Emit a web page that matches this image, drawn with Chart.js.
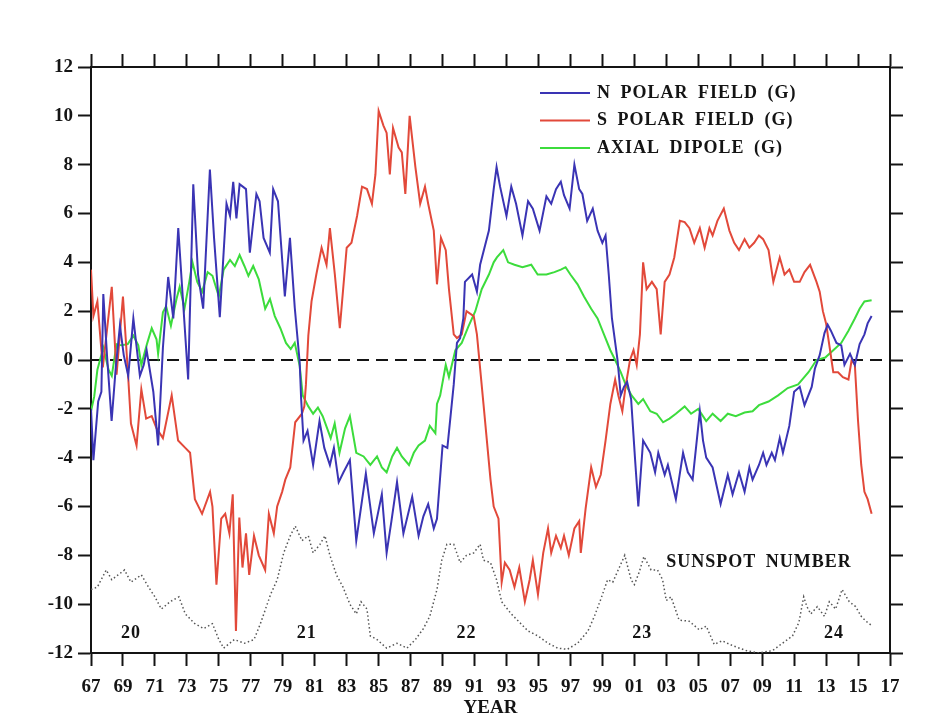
<!DOCTYPE html>
<html>
<head>
<meta charset="utf-8">
<title>Polar fields and axial dipole</title>
<script src="https://cdn.jsdelivr.net/npm/chart.js@4.4.1/dist/chart.umd.min.js"></script>
<style>
    html, body { margin: 0; padding: 0; background: #fff; }
</style>
</head>
<body>
<canvas id="polar-chart" width="936" height="728"></canvas>
<script>
(function() {
    'use strict';

    // values: [year, gauss]
    const N_POLAR = [
        [1967.0,-2.0],[1967.15,-4.1],[1967.45,-1.7],[1967.65,-1.3],[1967.77,2.7],[1968.0,0.2],[1968.29,-2.5],
        [1968.55,-0.3],[1968.81,1.4],[1969.05,0.2],[1969.33,-0.65],[1969.65,1.7],[1970.06,-0.65],[1970.3,-0.2],
        [1970.48,0.4],[1970.9,-1.3],[1971.2,-3.5],[1971.5,0.5],[1971.83,3.4],[1972.15,1.7],[1972.46,5.4],
        [1972.75,2.5],[1973.08,-0.8],[1973.4,7.2],[1973.7,3.5],[1974.02,2.1],[1974.44,7.8],[1974.7,5.0],
        [1975.06,1.75],[1975.48,6.4],[1975.7,5.9],[1975.9,7.3],[1976.1,5.8],[1976.3,7.2],[1976.7,7.0],
        [1976.94,4.4],[1977.35,6.8],[1977.55,6.5],[1977.8,5.0],[1978.19,4.4],[1978.4,7.0],[1978.7,6.5],
        [1979.13,2.6],[1979.45,5.0],[1979.75,2.15],[1980.06,-0.1],[1980.15,-1.6],[1980.3,-3.3],[1980.55,-2.9],
        [1980.9,-4.3],[1981.3,-2.5],[1981.6,-3.6],[1981.95,-4.3],[1982.2,-3.6],[1982.5,-5.0],[1982.8,-4.6],
        [1983.2,-4.1],[1983.6,-7.4],[1984.2,-4.65],[1984.7,-7.1],[1985.2,-5.5],[1985.5,-7.9],[1985.8,-6.6],
        [1986.15,-5.0],[1986.55,-7.1],[1987.1,-5.6],[1987.5,-7.2],[1987.8,-6.4],[1988.1,-5.9],[1988.45,-6.9],
        [1988.65,-6.5],[1989.0,-3.5],[1989.3,-3.6],[1989.7,-1.0],[1989.9,0.7],[1990.1,0.9],[1990.3,1.7],
        [1990.4,3.2],[1990.85,3.5],[1991.15,2.8],[1991.35,3.9],[1991.9,5.3],[1992.2,7.0],[1992.38,7.9],
        [1992.6,7.1],[1993.0,5.9],[1993.3,7.1],[1993.6,6.4],[1994.0,5.1],[1994.35,6.5],[1994.65,6.2],
        [1995.07,5.3],[1995.5,6.7],[1995.8,6.4],[1996.1,7.0],[1996.4,7.3],[1996.6,6.75],[1996.95,6.2],
        [1997.25,8.0],[1997.55,7.0],[1997.75,6.8],[1998.05,5.7],[1998.4,6.2],[1998.7,5.3],[1999.0,4.8],
        [1999.2,5.1],[1999.4,3.5],[1999.6,1.7],[1999.95,0.0],[2000.15,-1.45],[2000.35,-1.1],[2000.55,-0.9],
        [2000.8,-1.6],[2001.05,-4.1],[2001.25,-6.0],[2001.55,-3.3],[2002.0,-3.8],[2002.3,-4.6],[2002.5,-3.8],
        [2002.9,-4.7],[2003.1,-4.3],[2003.6,-5.7],[2004.05,-3.8],[2004.35,-4.6],[2004.65,-4.9],[2005.1,-2.1],
        [2005.3,-3.3],[2005.5,-4.0],[2005.9,-4.4],[2006.4,-5.9],[2006.85,-4.7],[2007.15,-5.5],[2007.55,-4.6],
        [2007.9,-5.4],[2008.2,-4.4],[2008.4,-4.9],[2008.8,-4.3],[2009.06,-3.8],[2009.27,-4.3],[2009.6,-3.8],
        [2009.8,-4.1],[2010.1,-3.2],[2010.3,-3.8],[2010.7,-2.7],[2011.0,-1.3],[2011.35,-1.1],[2011.65,-1.85],
        [2012.1,-1.1],[2012.3,-0.35],[2012.6,0.2],[2012.9,1.1],[2013.1,1.45],[2013.3,1.2],[2013.65,0.7],
        [2013.95,0.6],[2014.15,-0.2],[2014.5,0.25],[2014.8,-0.2],[2015.1,0.65],[2015.4,1.05],[2015.6,1.5],
        [2015.85,1.8]
    ];

    const S_POLAR = [
        [1967.0,3.7],[1967.15,1.8],[1967.4,2.4],[1967.74,-0.3],[1968.3,3.0],[1968.6,-0.6],[1969.0,2.6],
        [1969.3,-0.4],[1969.5,-2.6],[1969.85,-3.5],[1970.15,-1.2],[1970.45,-2.4],[1970.8,-2.3],[1971.1,-2.8],
        [1971.5,-3.2],[1972.05,-1.45],[1972.45,-3.3],[1972.9,-3.6],[1973.2,-3.8],[1973.5,-5.7],[1973.95,-6.3],
        [1974.45,-5.4],[1974.6,-6.0],[1974.85,-9.2],[1975.15,-6.5],[1975.4,-6.3],[1975.66,-7.1],[1975.87,-5.5],
        [1976.07,-11.1],[1976.28,-6.45],[1976.48,-8.5],[1976.7,-7.1],[1976.9,-8.8],[1977.2,-7.2],[1977.5,-8.0],
        [1977.9,-8.6],[1978.13,-6.3],[1978.44,-7.1],[1978.65,-6.0],[1978.96,-5.4],[1979.16,-4.9],[1979.47,-4.4],
        [1979.78,-2.55],[1980.2,-2.2],[1980.35,-1.9],[1980.45,-1.0],[1980.6,1.0],[1980.8,2.4],[1981.1,3.5],
        [1981.43,4.6],[1981.74,3.9],[1981.95,5.4],[1982.26,3.5],[1982.57,1.3],[1983.0,4.6],[1983.3,4.8],
        [1983.65,5.9],[1983.96,7.1],[1984.27,7.0],[1984.58,6.4],[1984.8,7.6],[1985.0,10.2],[1985.3,9.6],
        [1985.5,9.3],[1985.7,7.6],[1985.9,9.5],[1986.25,8.7],[1986.45,8.5],[1986.67,6.8],[1986.94,10.0],
        [1987.3,7.9],[1987.6,6.4],[1987.9,7.1],[1988.1,6.4],[1988.45,5.3],[1988.65,3.1],[1988.9,5.0],
        [1989.2,4.5],[1989.4,2.9],[1989.7,1.05],[1989.9,0.9],[1990.2,1.05],[1990.5,2.0],[1990.95,1.8],
        [1991.15,1.05],[1991.56,-1.8],[1992.0,-4.9],[1992.2,-6.0],[1992.5,-6.5],[1992.7,-9.1],[1992.9,-8.3],
        [1993.2,-8.6],[1993.5,-9.3],[1993.8,-8.5],[1994.15,-9.9],[1994.45,-9.0],[1994.65,-8.2],[1994.97,-9.6],
        [1995.3,-7.9],[1995.6,-6.9],[1995.8,-7.9],[1996.1,-7.2],[1996.4,-7.7],[1996.6,-7.2],[1996.9,-8.0],
        [1997.25,-6.9],[1997.55,-6.6],[1997.65,-7.9],[1997.95,-6.1],[1998.3,-4.4],[1998.6,-5.2],[1998.9,-4.7],
        [1999.2,-3.3],[1999.5,-1.8],[1999.8,-0.8],[2000.0,-1.45],[2000.25,-2.1],[2000.45,-1.1],[2000.73,0.0],
        [2000.95,0.4],[2001.15,-0.2],[2001.35,1.05],[2001.55,4.0],[2001.77,2.9],[2002.1,3.2],[2002.4,2.9],
        [2002.65,1.05],[2002.9,3.2],[2003.2,3.5],[2003.5,4.2],[2003.85,5.7],[2004.15,5.65],[2004.45,5.4],
        [2004.75,4.8],[2005.1,5.4],[2005.4,4.6],[2005.7,5.4],[2005.9,5.1],[2006.2,5.7],[2006.6,6.2],
        [2006.95,5.3],[2007.25,4.8],[2007.55,4.5],[2007.9,4.95],[2008.2,4.6],[2008.5,4.8],[2008.8,5.1],
        [2009.06,4.95],[2009.4,4.5],[2009.7,3.2],[2010.1,4.2],[2010.4,3.5],[2010.7,3.7],[2011.0,3.2],
        [2011.35,3.2],[2011.65,3.6],[2012.0,3.9],[2012.4,3.2],[2012.6,2.8],[2012.8,2.0],[2013.0,1.5],
        [2013.25,0.4],[2013.45,-0.5],[2013.75,-0.5],[2014.05,-0.7],[2014.4,-0.8],[2014.6,0.0],[2014.8,-0.2],
        [2015.0,-2.5],[2015.2,-4.3],[2015.4,-5.4],[2015.6,-5.7],[2015.85,-6.3]
    ];

    const AXIAL_DIPOLE = [
        [1967.0,-2.1],[1967.2,-1.5],[1967.4,-0.4],[1967.77,0.5],[1968.1,-0.4],[1968.3,-0.65],[1968.6,0.65],
        [1968.9,0.6],[1969.3,0.65],[1969.65,1.0],[1969.96,0.6],[1970.15,-0.2],[1970.5,0.65],[1970.8,1.3],
        [1971.1,0.85],[1971.2,0.25],[1971.5,1.95],[1971.7,2.2],[1972.0,1.4],[1972.35,2.5],[1972.55,3.0],
        [1972.85,2.1],[1973.15,3.2],[1973.35,4.0],[1973.65,3.2],[1973.96,2.8],[1974.3,3.6],[1974.6,3.45],
        [1975.0,2.6],[1975.3,3.7],[1975.7,4.1],[1976.0,3.85],[1976.3,4.3],[1976.6,3.85],[1976.85,3.45],
        [1977.15,3.85],[1977.5,3.3],[1977.9,2.1],[1978.2,2.5],[1978.5,1.8],[1978.85,1.3],[1979.2,0.7],
        [1979.5,0.45],[1979.75,0.7],[1980.06,-0.25],[1980.25,-1.45],[1980.6,-1.9],[1980.9,-2.2],[1981.2,-1.95],
        [1981.5,-2.3],[1982.0,-3.2],[1982.25,-2.6],[1982.55,-3.8],[1982.9,-2.8],[1983.2,-2.3],[1983.6,-3.8],
        [1984.06,-3.95],[1984.48,-4.3],[1984.9,-3.95],[1985.2,-4.4],[1985.5,-4.6],[1985.85,-3.95],[1986.15,-3.6],
        [1986.45,-3.95],[1986.9,-4.3],[1987.2,-3.8],[1987.5,-3.5],[1987.9,-3.3],[1988.2,-2.7],[1988.55,-3.0],
        [1988.65,-1.8],[1988.85,-1.45],[1989.2,-0.2],[1989.4,-0.7],[1989.8,0.4],[1990.2,0.7],[1990.6,1.35],
        [1991.05,2.0],[1991.45,2.9],[1991.9,3.5],[1992.2,4.0],[1992.4,4.2],[1992.8,4.5],[1993.1,4.0],
        [1993.5,3.9],[1994.0,3.8],[1994.55,3.9],[1994.95,3.5],[1995.5,3.5],[1996.0,3.6],[1996.4,3.7],
        [1996.7,3.8],[1997.0,3.5],[1997.45,3.1],[1997.85,2.6],[1998.3,2.1],[1998.7,1.7],[1999.1,1.05],
        [1999.5,0.4],[1999.8,0.0],[2000.15,-0.5],[2000.45,-1.0],[2000.83,-1.45],[2001.25,-1.8],[2001.55,-1.6],
        [2002.0,-2.1],[2002.4,-2.2],[2002.8,-2.55],[2003.2,-2.4],[2003.6,-2.2],[2004.15,-1.9],[2004.55,-2.2],
        [2005.0,-2.0],[2005.5,-2.5],[2005.9,-2.2],[2006.4,-2.5],[2006.85,-2.2],[2007.35,-2.3],[2007.9,-2.15],
        [2008.4,-2.1],[2008.8,-1.85],[2009.4,-1.7],[2010.0,-1.45],[2010.6,-1.15],[2011.25,-1.0],[2011.9,-0.5],
        [2012.4,0.0],[2012.95,0.1],[2013.45,0.4],[2013.95,0.7],[2014.4,1.2],[2014.8,1.7],[2015.1,2.1],
        [2015.4,2.4],[2015.85,2.45]
    ];

    // sunspot curve, read in left-axis units
    const SUNSPOT = [
        [1967.0,-9.4],[1967.4,-9.3],[1967.95,-8.6],[1968.3,-9.0],[1968.7,-8.8],[1969.1,-8.6],[1969.5,-9.1],
        [1970.15,-8.8],[1970.6,-9.3],[1971.0,-9.7],[1971.4,-10.2],[1971.95,-9.9],[1972.5,-9.7],[1972.9,-10.4],
        [1973.5,-10.8],[1974.05,-11.0],[1974.6,-10.8],[1975.0,-11.45],[1975.3,-11.8],[1975.97,-11.45],
        [1976.6,-11.6],[1977.2,-11.45],[1977.6,-10.8],[1978.24,-9.6],[1978.65,-9.0],[1979.06,-7.9],
        [1979.47,-7.2],[1979.78,-6.8],[1980.2,-7.4],[1980.6,-7.2],[1980.9,-7.9],[1981.33,-7.55],[1981.64,-7.2],
        [1981.95,-8.0],[1982.36,-8.8],[1982.77,-9.3],[1983.2,-10.0],[1983.6,-10.4],[1983.9,-9.9],[1984.27,-10.2],
        [1984.48,-11.3],[1984.9,-11.45],[1985.5,-11.8],[1986.15,-11.6],[1986.77,-11.8],[1987.3,-11.45],
        [1987.8,-11.0],[1988.2,-10.5],[1988.65,-9.4],[1988.95,-8.2],[1989.27,-7.55],[1989.7,-7.55],[1990.1,-8.3],
        [1990.5,-8.0],[1990.95,-7.9],[1991.35,-7.55],[1991.56,-8.2],[1992.0,-8.3],[1992.38,-9.0],[1992.7,-9.9],
        [1993.3,-10.4],[1993.9,-10.8],[1994.35,-11.1],[1994.97,-11.3],[1995.6,-11.6],[1996.2,-11.8],
        [1996.8,-11.85],[1997.45,-11.6],[1998.1,-11.1],[1998.5,-10.5],[1998.9,-9.8],[1999.33,-9.0],
        [1999.65,-9.1],[2000.06,-8.5],[2000.4,-8.0],[2000.8,-9.0],[2001.0,-9.2],[2001.3,-8.7],[2001.6,-8.05],
        [2002.05,-8.6],[2002.45,-8.6],[2002.77,-9.0],[2003.0,-9.85],[2003.3,-9.7],[2003.8,-10.65],
        [2004.44,-10.7],[2005.06,-11.05],[2005.5,-10.9],[2006.0,-11.65],[2006.5,-11.5],[2007.15,-11.7],
        [2008.0,-11.9],[2008.8,-12.0],[2009.65,-11.9],[2010.27,-11.6],[2010.9,-11.3],[2011.3,-10.75],
        [2011.6,-9.7],[2011.8,-10.1],[2012.04,-10.4],[2012.45,-10.1],[2012.9,-10.5],[2013.2,-9.9],
        [2013.6,-10.2],[2014.0,-9.4],[2014.45,-9.9],[2014.85,-10.1],[2015.2,-10.5],[2015.5,-10.7],
        [2015.9,-10.9]
    ];

    const CYCLE_NUMBERS = ['20', '21', '22', '23', '24'];
    const CYCLE_YEARS = [1969.5, 1980.5, 1990.5, 2001.5, 2013.5];

    const YEAR_MIN = 1967;
    const YEAR_MAX = 2017;
    const FIELD_MIN = -12;
    const FIELD_MAX = 12;

    const INK = '#141414';
    const SERIF = '"Liberation Serif", "Times New Roman", serif';

    function toPoints(pairs) {
        return pairs.map(p => ({ x: p[0], y: p[1] }));
    }

    function yearLabel(value) {
        return String(Math.round(value) % 100).padStart(2, '0');
    }

    function fixedSize(prop, size) {
        return function(scale) { scale[prop] = size; };
    }

    const annotationPlugin = {
        id: 'annotations',
        afterDatasetsDraw(chart) {
            const ctx = chart.ctx;
            const xs = chart.scales.x;
            const ys = chart.scales.y;

            ctx.save();
            ctx.fillStyle = INK;
            ctx.font = 'bold 18px ' + SERIF;
            ctx.letterSpacing = '1px';
            ctx.wordSpacing = '4px';
            ctx.textBaseline = 'middle';

            // legend
            chart.data.datasets.slice(0, 3).forEach((ds, i) => {
                const rowY = 93 + i * 27.5;
                ctx.strokeStyle = ds.borderColor;
                ctx.lineWidth = 2;
                ctx.beginPath();
                ctx.moveTo(540, rowY);
                ctx.lineTo(590, rowY);
                ctx.stroke();
                ctx.textAlign = 'left';
                ctx.fillText(ds.label, 597, rowY);
            });

            ctx.textAlign = 'center';
            ctx.fillText('SUNSPOT NUMBER', xs.getPixelForValue(2008.8), ys.getPixelForValue(-8.3));

            CYCLE_NUMBERS.forEach((label, i) => {
                ctx.fillText(label, xs.getPixelForValue(CYCLE_YEARS[i]), ys.getPixelForValue(-11.2));
            });
            ctx.restore();
        }
    };

    function axisGrid() {
        return {
            drawOnChartArea: false,
            drawTicks: true,
            tickLength: 13,
            tickWidth: 2,
            tickColor: INK
        };
    }

    function axisBorder() {
        return { display: true, width: 2, color: INK };
    }

    function renderChart() {
        const ctx = document.getElementById('polar-chart');
        if (!ctx) return;

        const tickFont = { family: SERIF, size: 19, weight: 'bold' };

        new Chart(ctx, {
            type: 'line',
            data: {
                datasets: [{
                    label: 'N POLAR FIELD (G)',
                    data: toPoints(N_POLAR),
                    borderColor: '#3a34b4',
                    borderWidth: 2
                }, {
                    label: 'S POLAR FIELD (G)',
                    data: toPoints(S_POLAR),
                    borderColor: '#e2493a',
                    borderWidth: 2
                }, {
                    label: 'AXIAL DIPOLE (G)',
                    data: toPoints(AXIAL_DIPOLE),
                    borderColor: '#3cdc3c',
                    borderWidth: 2
                }, {
                    label: 'SUNSPOT NUMBER',
                    data: toPoints(SUNSPOT),
                    borderColor: '#555555',
                    borderWidth: 1.5,
                    borderDash: [1.5, 2.5]
                }, {
                    label: 'zero',
                    data: [{ x: YEAR_MIN, y: 0 }, { x: YEAR_MAX, y: 0 }],
                    borderColor: INK,
                    borderWidth: 2,
                    borderDash: [12, 7]
                }]
            },
            options: {
                responsive: false,
                animation: false,
                layout: { padding: 0 },
                elements: {
                    point: { radius: 0 },
                    line: { tension: 0, fill: false }
                },
                plugins: {
                    legend: { display: false },
                    tooltip: { enabled: false }
                },
                scales: {
                    x: {
                        type: 'linear',
                        position: 'bottom',
                        min: YEAR_MIN,
                        max: YEAR_MAX,
                        afterFit: fixedSize('height', 75),
                        grid: axisGrid(),
                        border: axisBorder(),
                        ticks: {
                            stepSize: 2,
                            autoSkip: false,
                            maxRotation: 0,
                            padding: 10,
                            color: INK,
                            font: tickFont,
                            callback: yearLabel
                        },
                        title: {
                            display: true,
                            text: 'YEAR',
                            color: INK,
                            font: tickFont,
                            padding: { top: 0, bottom: 9 }
                        }
                    },
                    xTop: {
                        type: 'linear',
                        position: 'top',
                        min: YEAR_MIN,
                        max: YEAR_MAX,
                        afterFit: fixedSize('height', 67),
                        grid: axisGrid(),
                        border: axisBorder(),
                        ticks: { stepSize: 2, autoSkip: false, display: false }
                    },
                    y: {
                        type: 'linear',
                        position: 'left',
                        min: FIELD_MIN,
                        max: FIELD_MAX,
                        afterFit: fixedSize('width', 91),
                        grid: axisGrid(),
                        border: axisBorder(),
                        ticks: {
                            stepSize: 2,
                            padding: 5,
                            color: INK,
                            font: tickFont
                        }
                    },
                    yRight: {
                        type: 'linear',
                        position: 'right',
                        min: FIELD_MIN,
                        max: FIELD_MAX,
                        afterFit: fixedSize('width', 46),
                        grid: axisGrid(),
                        border: axisBorder(),
                        ticks: { stepSize: 2, display: false }
                    }
                }
            },
            plugins: [annotationPlugin]
        });
    }

    renderChart();
})();
</script>
</body>
</html>
